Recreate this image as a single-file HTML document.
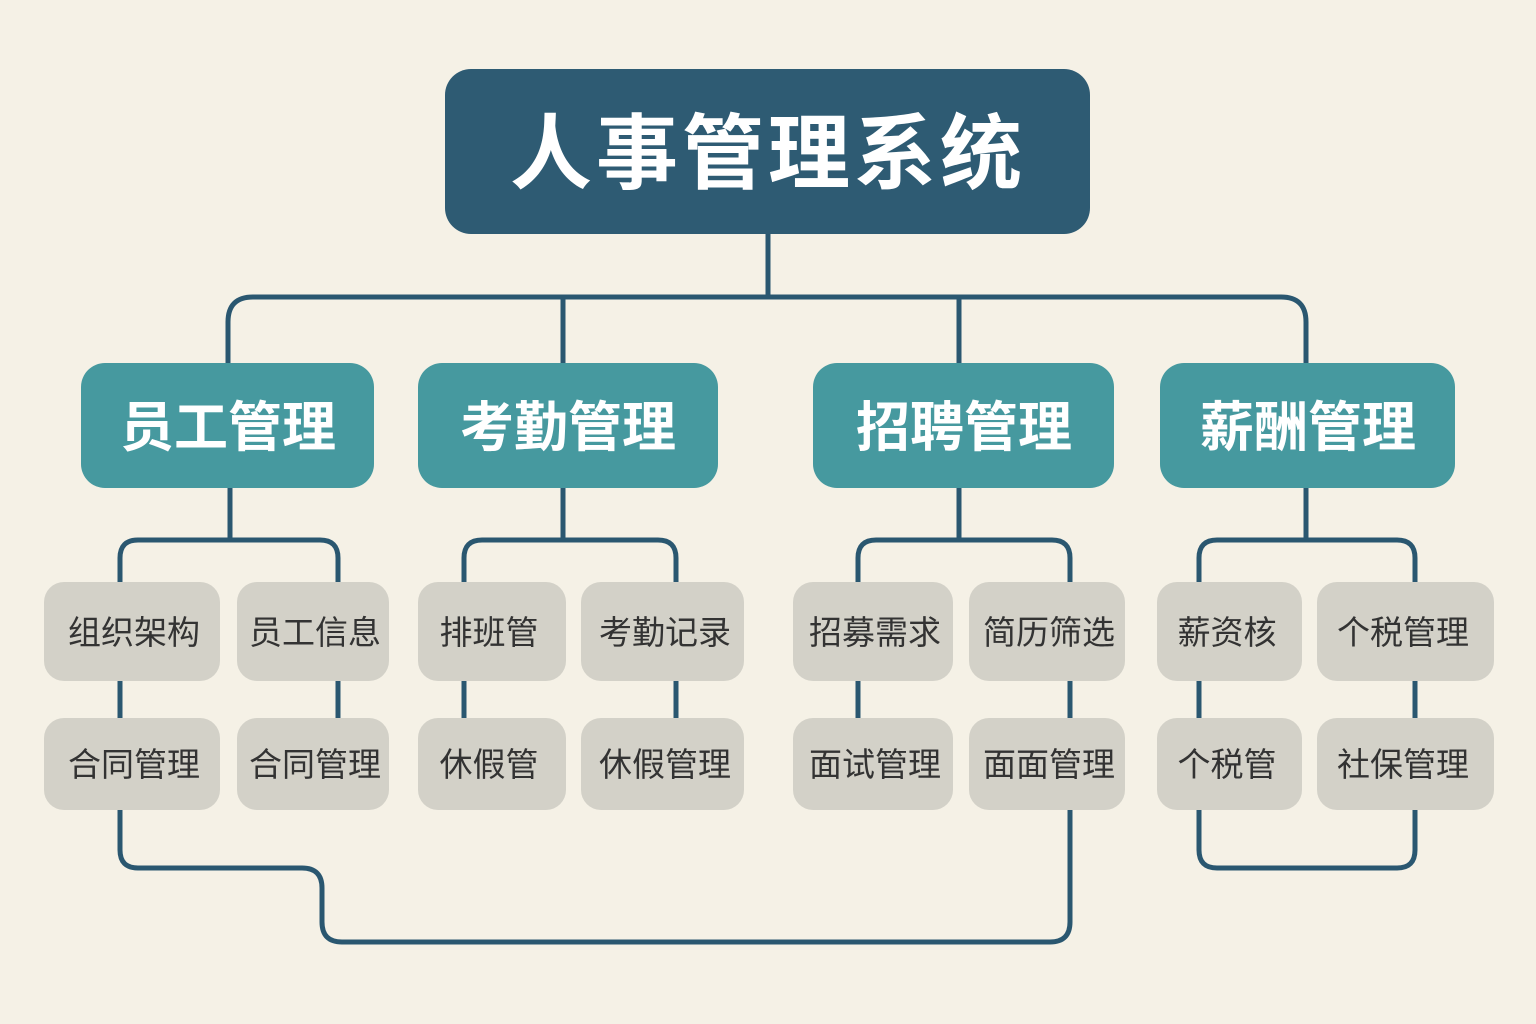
<!DOCTYPE html>
<html><head><meta charset="utf-8"><style>
html,body{margin:0;padding:0;background:#f5f1e6;}
svg{display:block}
text{font-family:"Liberation Sans","Noto Sans CJK SC",sans-serif;}
</style></head><body>
<svg width="1536" height="1024" viewBox="0 0 1536 1024" xmlns="http://www.w3.org/2000/svg">
<rect width="1536" height="1024" fill="#f5f1e6"/>
<g fill="none" stroke="#2a5770" stroke-width="5" stroke-linejoin="round">
<path d="M768 234 V297"/>
<path d="M228 363 V322 Q228 297 253 297 H1281 Q1306 297 1306 322 V363"/>
<path d="M563 297 V363 M959 297 V363"/>
<path d="M230 488 V540 M563 488 V540 M959 488 V540 M1306 488 V540"/>
<path d="M120 582 V558 Q120 540 138 540 H320 Q338 540 338 558 V582"/>
<path d="M464 582 V558 Q464 540 482 540 H658 Q676 540 676 558 V582"/>
<path d="M858 582 V558 Q858 540 876 540 H1052 Q1070 540 1070 558 V582"/>
<path d="M1199 582 V558 Q1199 540 1217 540 H1397 Q1415 540 1415 558 V582"/>
<path d="M120 681 V718 M338 681 V718 M464 681 V718 M676 681 V718 M858 681 V718 M1070 681 V718 M1199 681 V718 M1415 681 V718"/>
<path d="M120 810 V850 Q120 868 138 868 H302 Q322 868 322 888 V922 Q322 942 342 942 H1050 Q1070 942 1070 922 V810"/>
<path d="M1199 810 V850 Q1199 868 1217 868 H1397 Q1415 868 1415 850 V810"/>
</g>
<rect x="445" y="69" width="645" height="165" rx="26" fill="#2e5b73"/>
<text x="768" y="182" text-anchor="middle" font-size="82" font-weight="bold" fill="#fff" letter-spacing="4">人事管理系统</text>
<g fill="#46999f">
<rect x="81" y="363" width="293" height="125" rx="24"/>
<rect x="418" y="363" width="300" height="125" rx="24"/>
<rect x="813" y="363" width="301" height="125" rx="24"/>
<rect x="1160" y="363" width="295" height="125" rx="24"/>
</g>
<g fill="#fff" font-size="54" font-weight="bold" text-anchor="middle">
<text x="228" y="446">员工管理</text>
<text x="568" y="446">考勤管理</text>
<text x="964" y="446">招聘管理</text>
<text x="1308" y="446">薪酬管理</text>
</g>
<g fill="#d3d1c8">
<rect x="44" y="582" width="176" height="99" rx="20"/>
<rect x="237" y="582" width="152" height="99" rx="20"/>
<rect x="418" y="582" width="148" height="99" rx="20"/>
<rect x="581" y="582" width="163" height="99" rx="20"/>
<rect x="793" y="582" width="160" height="99" rx="20"/>
<rect x="969" y="582" width="156" height="99" rx="20"/>
<rect x="1157" y="582" width="145" height="99" rx="20"/>
<rect x="1317" y="582" width="177" height="99" rx="20"/>
<rect x="44" y="718" width="176" height="92" rx="20"/>
<rect x="237" y="718" width="152" height="92" rx="20"/>
<rect x="418" y="718" width="148" height="92" rx="20"/>
<rect x="581" y="718" width="163" height="92" rx="20"/>
<rect x="793" y="718" width="160" height="92" rx="20"/>
<rect x="969" y="718" width="156" height="92" rx="20"/>
<rect x="1157" y="718" width="145" height="92" rx="20"/>
<rect x="1317" y="718" width="177" height="92" rx="20"/>
</g>
<g fill="#333" font-size="33" text-anchor="middle">
<text x="134" y="644">组织架构</text>
<text x="315" y="644">员工信息</text>
<text x="489" y="644">排班管</text>
<text x="665" y="644">考勤记录</text>
<text x="875" y="644">招募需求</text>
<text x="1049" y="644">简历筛选</text>
<text x="1227" y="644">薪资核</text>
<text x="1403" y="644">个税管理</text>
<text x="134" y="776">合同管理</text>
<text x="315" y="776">合同管理</text>
<text x="489" y="776">休假管</text>
<text x="665" y="776">休假管理</text>
<text x="875" y="776">面试管理</text>
<text x="1049" y="776">面面管理</text>
<text x="1227" y="776">个税管</text>
<text x="1403" y="776">社保管理</text>
</g>
</svg>
</body></html>
